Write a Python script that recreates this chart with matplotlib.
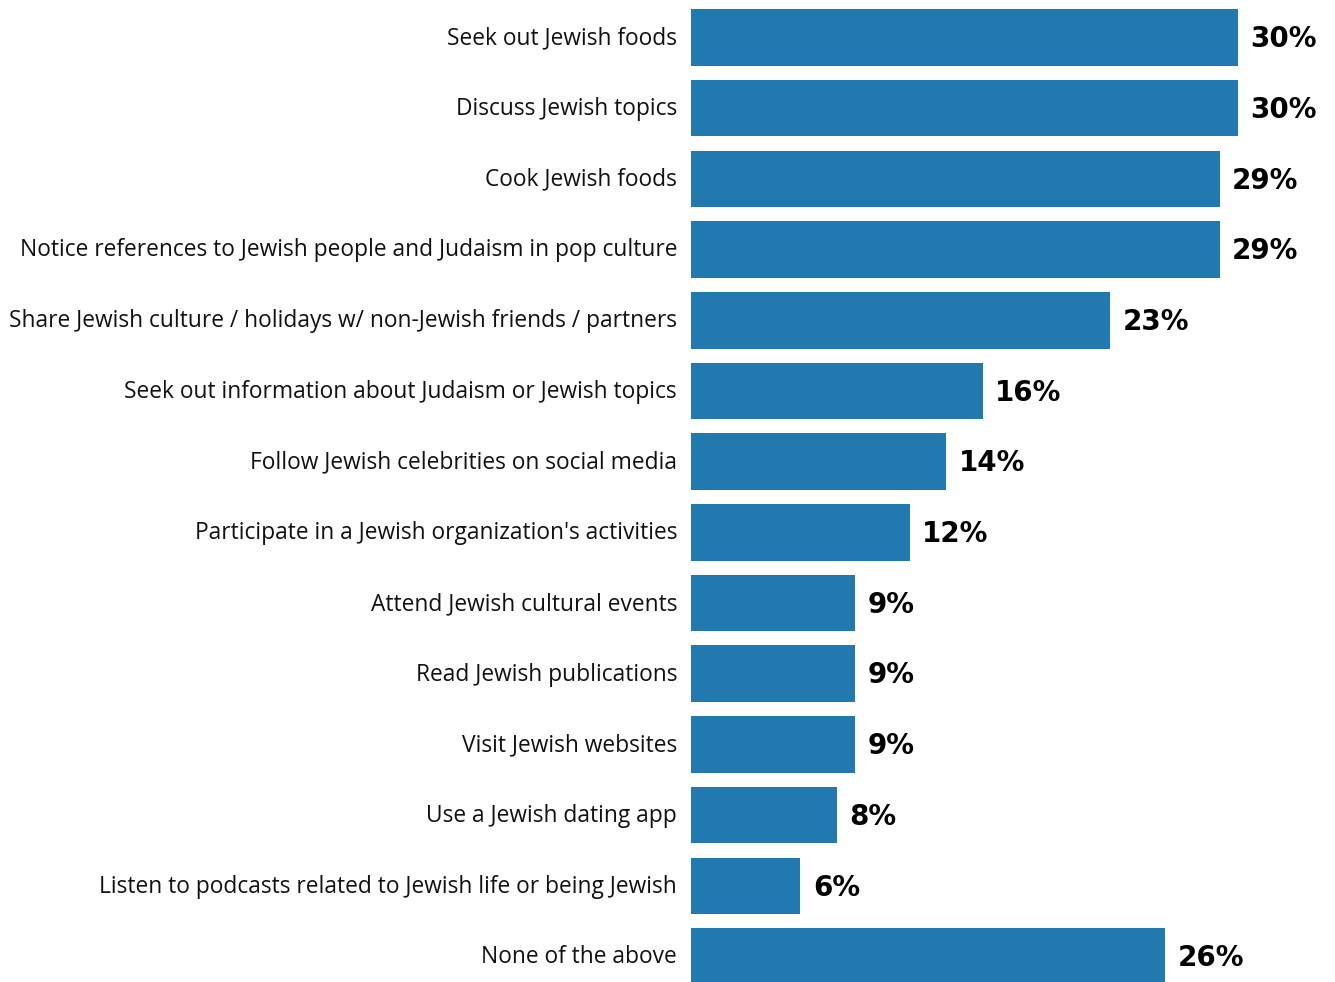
import matplotlib
matplotlib.use("Agg")
import matplotlib.pyplot as plt
from matplotlib.transforms import ScaledTranslation

categories = [
    "Seek out Jewish foods",
    "Discuss Jewish topics",
    "Cook Jewish foods",
    "Notice references to Jewish people and Judaism in pop culture",
    "Share Jewish culture / holidays w/ non-Jewish friends / partners",
    "Seek out information about Judaism or Jewish topics",
    "Follow Jewish celebrities on social media",
    "Participate in a Jewish organization's activities",
    "Attend Jewish cultural events",
    "Read Jewish publications",
    "Visit Jewish websites",
    "Use a Jewish dating app",
    "Listen to podcasts related to Jewish life or being Jewish",
    "None of the above",
]
values = [30, 30, 29, 29, 23, 16, 14, 12, 9, 9, 9, 8, 6, 26]

BAR_COLOR = "#2179b0"
LABEL_FONT = "Open Sans"
VALUE_FONT = "DejaVu Sans"

W, H = 1335, 982
fig = plt.figure(figsize=(W / 100, H / 100), dpi=100)
ax = fig.add_axes([691 / W, 0, 1 - 691 / W, 1])

ypos = list(range(len(categories)))
ax.barh(ypos, values, height=0.8, color=BAR_COLOR)

ax.set_ylim(13.36, -0.53)
ax.set_xlim(0, 35.33)

for y, v in zip(ypos, values):
    ax.annotate(f"{v}%", xy=(v, y), xytext=(9, -1.2), textcoords="offset points",
                ha="left", va="center", fontsize=20, fontweight="bold",
                family=VALUE_FONT, color="black")

ax.set_yticks(ypos)
ax.set_yticklabels(categories, fontsize=16.4, family=LABEL_FONT, color="#111111")
ax.tick_params(axis="y", length=0, pad=10)
# lift category labels slightly so they sit level with the bar centres
lift = ScaledTranslation(0, 1.5 / 72, fig.dpi_scale_trans)
for lbl in ax.get_yticklabels():
    lbl.set_transform(lbl.get_transform() + lift)
ax.set_xticks([])
for s in ax.spines.values():
    s.set_visible(False)

fig.savefig("out.png", dpi=100)
